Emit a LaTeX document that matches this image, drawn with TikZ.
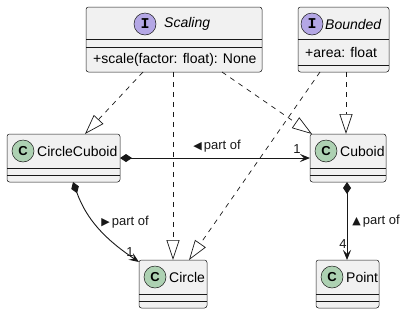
\documentclass[tikz,border=0pt]{standalone}
\usepackage{fontspec}
\setmainfont{Liberation Sans}
\newfontfamily\symfont{DejaVu Sans}
\newfontfamily\monofont{Liberation Mono}
\usetikzlibrary{arrows.meta,calc}
\definecolor{boxfill}{HTML}{F1F1F1}
\definecolor{ink}{HTML}{181818}
\definecolor{classicon}{HTML}{ADD1B2}
\definecolor{ifaceicon}{HTML}{B4A7E5}
% small pointer glyph in front of association labels
\newcommand{\ptrglyph}[1]{{\fontsize{11}{11}\selectfont\symfont #1}}
\tikzset{
  umlbox/.style={draw=ink, fill=boxfill, line width=0.5pt, rounded corners=2.5pt,
    inner sep=0pt, outer sep=0pt, anchor=north west},
  sepline/.style={draw=ink, line width=0.5pt},
  icon/.style={circle, draw=ink, line width=0.5pt, minimum size=22pt, inner sep=0pt},
  cicon/.style={icon, fill=classicon, font=\fontsize{13}{13}\selectfont\bfseries},
  iicon/.style={icon, fill=ifaceicon, font=\fontsize{15}{15}\selectfont\monofont\bfseries},
  cname/.style={anchor=west, inner sep=0pt, font=\fontsize{14}{16}\selectfont},
  iname/.style={anchor=west, inner sep=0pt, font=\fontsize{14}{16}\selectfont\itshape},
  member/.style={anchor=west, inner sep=0pt, font=\fontsize{14}{16}\selectfont},
  realize/.style={draw=ink, line width=0.7pt, dash pattern=on 5pt off 5pt,
    -{Triangle[open, length=20pt, width=13pt, line width=0.7pt]}},
  partof/.style={draw=ink, line width=0.9pt,
    {Diamond[length=12pt, width=8pt]}-{Stealth[length=10pt, width=8pt, inset=4pt]}},
  lbl/.style={inner sep=0pt, font=\fontsize{13}{15}\selectfont, text=ink},
}
\begin{document}
\begin{tikzpicture}[x=1pt, y=-1pt]
\useasboundingbox (0,0) rectangle (404,314);

% ---- interfaces ----
\node[umlbox, minimum width=176pt, minimum height=65pt] (scaling) at (86,7) {};
\draw[sepline] (86,39) -- (262,39);
\draw[sepline] (86,47) -- (262,47);
\node[iicon] (scalingicon) at (145,24) {I};
\node[iname] (scalingname) at (164,24) {Scaling};
\node[member] (scalingop) at (93,60) {+scale(factor: float): None};

\node[umlbox, minimum width=91pt, minimum height=65pt] (bounded) at (298,7) {};
\draw[sepline] (298,39) -- (389,39);
\draw[sepline] (298,65) -- (389,65);
\node[iicon] (boundedicon) at (312,24) {I};
\node[iname] (boundedname) at (325,24) {Bounded};
\node[member] (boundedattr) at (305,52) {+area: float};

% ---- classes ----
\node[umlbox, minimum width=113pt, minimum height=48pt] (circlecuboid) at (7,134) {};
\draw[sepline] (7,168) -- (120,168);
\draw[sepline] (7,175) -- (120,175);
\node[cicon] (circlecuboidicon) at (23,151) {C};
\node[cname] (circlecuboidname) at (37,151) {CircleCuboid};

\node[umlbox, minimum width=76pt, minimum height=48pt] (cuboid) at (310,134) {};
\draw[sepline] (310,168) -- (386,168);
\draw[sepline] (310,175) -- (386,175);
\node[cicon] (cuboidicon) at (326,151) {C};
\node[cname] (cuboidname) at (340,151) {Cuboid};

\node[umlbox, minimum width=68pt, minimum height=48pt] (circle) at (139,260) {};
\draw[sepline] (139,294) -- (207,294);
\draw[sepline] (139,301) -- (207,301);
\node[cicon] (circleicon) at (155,277) {C};
\node[cname] (circlename) at (169,277) {Circle};

\node[umlbox, minimum width=63pt, minimum height=48pt] (point) at (316,260) {};
\draw[sepline] (316,294) -- (379,294);
\draw[sepline] (316,301) -- (379,301);
\node[cicon] (pointicon) at (332,277) {C};
\node[cname] (pointname) at (346,277) {Point};

% ---- realizations ----
\draw[realize] ($(scaling.south west)+(57,0)$) -- ($(circlecuboid.north west)+(78,0)$);
\draw[realize] ($(scaling.south west)+(87,0)$) -- ($(circle.north west)+(34,0)$);
\draw[realize] ($(scaling.south west)+(136,0)$) -- ($(cuboid.north west)+(2,0)$);
\draw[realize] ($(bounded.south west)+(48,0)$) -- ($(cuboid.north west)+(36,0)$);
\draw[realize] ($(bounded.south west)+(22,0)$) -- ($(circle.north west)+(50,0)$);

% ---- compositions ----
\draw[partof] (circlecuboid.east) -- (cuboid.west);
\node[lbl] (lblA) at (217,146) {\ptrglyph{◀}\,part of};
\node[lbl] (multA) at (297,149) {1};

\draw[partof] ($(circlecuboid.south west)+(66,0)$) to[out=-70, in=146] ($(circle.north west)+(0,2)$);
\node[lbl] (lblB) at (125,222) {\ptrglyph{▶}\,part of};
\node[lbl] (multB) at (130,252) {1};

\draw[partof] ($(cuboid.south west)+(37,0)$) -- ($(point.north west)+(31,0)$);
\node[lbl] (lblC) at (376,221) {\ptrglyph{▲}\,part of};
\node[lbl] (multC) at (343,244) {4};
\end{tikzpicture}
\end{document}
